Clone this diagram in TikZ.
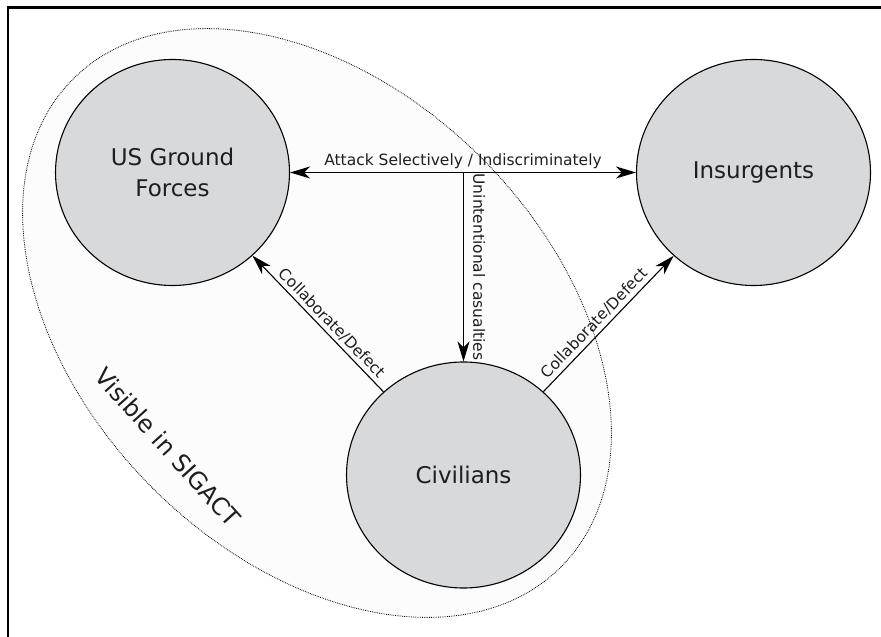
\documentclass[tikz,border=0pt]{standalone}
\usepackage{fontspec}
\setmainfont{DejaVu Sans}
\usepackage{tikz}
\usetikzlibrary{arrows.meta,shapes.geometric,positioning}

\definecolor{actorfill}{RGB}{216,217,219}
\definecolor{zonefill}{RGB}{252,252,252}
\definecolor{inkgray}{RGB}{30,30,30}

\begin{document}
\begin{tikzpicture}[x=1pt, y=1pt, line width=1.1pt,
  >={Stealth[length=20pt,width=12pt,inset=6pt]},
  actor/.style={ellipse, draw, fill=actorfill, minimum width=234pt, minimum height=226pt,
    align=center, text=inkgray, font=\fontsize{23}{31}\selectfont},
  tag/.style={text=inkgray, font=\fontsize{15.5}{18}\selectfont}]
\useasboundingbox (0,0) rectangle (881,637);
%%%%% Frame %%%%%
\draw[line width=2.5pt] (8,-20) -- (8,629.5) -- (900,629.5);
%%%%% Zone %%%%%
\draw[densely dotted, line width=0.8pt, fill=zonefill, rotate around={-45:(317,314)}] (317,314) ellipse (345 and 233);
\node[rotate=-48, text=inkgray, font=\fontsize{24}{28}\selectfont] (sig) at (168,190) {Visible in SIGACT};
%%%%% Actors %%%%%
\node[actor] (us) at (172.5,464.5) {US Ground\\Forces};
\node[actor] (ins) at (753.5,464.5) {Insurgents};
\node[actor] (civ) at (463.5,162) {Civilians};
%%%%% Links %%%%%
\draw[<->] (us) -- node[tag, above] {Attack Selectively / Indiscriminately} (ins);
\coordinate (drop) at (civ |- us);
\draw[->] (drop) -- node[tag, midway, rotate=-90, anchor=south, inner ysep=9pt] {Unintentional casualties} (civ);
\foreach \t in {us,ins}{
\draw[->] (civ) -- node[tag, pos=0.45, sloped, above] {Collaborate/Defect} (\t);
}
\end{tikzpicture}
\end{document}
